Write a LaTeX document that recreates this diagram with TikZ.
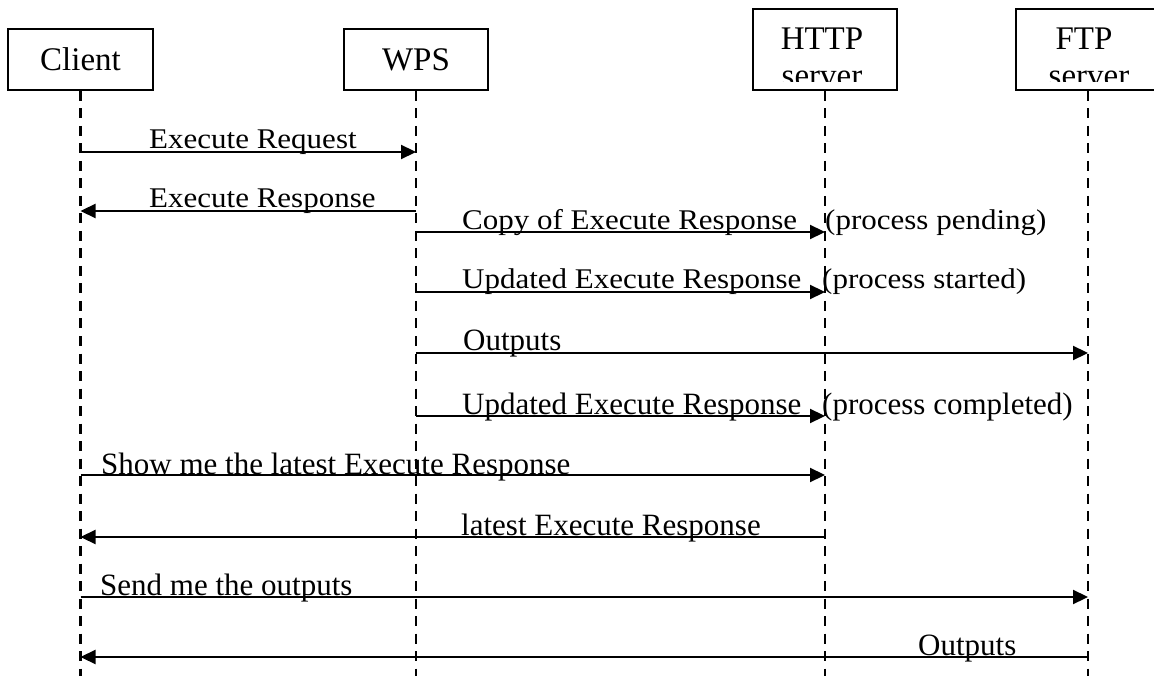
\documentclass[tikz,border=0pt]{standalone}
\usepackage{fontspec}
\setmainfont{Liberation Serif}
\usetikzlibrary{arrows.meta}

\begin{document}
\begin{tikzpicture}[x=1pt, y=-1pt,
  actor/.style={draw, line width=2pt, inner sep=0pt},
  lifeline/.style={line width=2.3pt, dash pattern=on 10pt off 7.5pt},
  msg/.style={line width=2.2pt, -{Triangle[length=15pt,width=14pt]}},
  lbl/.style={anchor=base west, inner sep=0pt, font=\fontsize{31}{36}\selectfont},
  head/.style={anchor=base, inner sep=0pt, font=\fontsize{33}{38}\selectfont},
]
\clip (0,0) rectangle (1154,676);
\fill[white] (0,0) rectangle (1154,676);

% participants
\node[actor, minimum width=145pt, minimum height=61pt] (client) at (80.5,59.5) {};
\node[head] (clientname) at (80.5,70.5) {Client};
\node[actor, minimum width=144pt, minimum height=61pt] (wps) at (416,59.5) {};
\node[head] (wpsname) at (416,70.5) {WPS};
\node[actor, minimum width=144pt, minimum height=81pt] (http) at (825,49.5) {};
\node[actor, minimum width=144pt, minimum height=81pt] (ftp) at (1088,49.5) {};

% two-line titles, cut off at the lower edge of their boxes
\begin{scope}
  \clip (753,9) rectangle (897,82);
  \node[head] (httpname) at (822,49.5) {HTTP};
  \node[head] (httpsub) at (822,87) {server};
\end{scope}
\begin{scope}
  \clip (1016,9) rectangle (1160,82);
  \node[head] (ftpname) at (1084,49.5) {FTP};
  \node[head] (ftpsub) at (1089,87) {server};
\end{scope}

% lifelines
\coordinate (bottom) at (0,680);
\foreach \p in {client,wps,http,ftp}
  \draw[lifeline] (\p.south) -- (\p.south |- bottom);

% message heights
\coordinate (m1) at (0,152);
\coordinate (m2) at (0,211);
\coordinate (m3) at (0,232);
\coordinate (m4) at (0,292);
\coordinate (m5) at (0,353);
\coordinate (m6) at (0,416);
\coordinate (m7) at (0,475);
\coordinate (m8) at (0,537);
\coordinate (m9) at (0,597);
\coordinate (m10) at (0,657);

% messages
\draw[msg] (client |- m1) -- (wps |- m1);
\draw[msg] (wps |- m2) -- (client |- m2);
\draw[msg] (wps |- m3) -- (http |- m3);
\draw[msg] (wps |- m4) -- (http |- m4);
\draw[msg] (wps |- m5) -- (ftp |- m5);
\draw[msg] (wps |- m6) -- (http |- m6);
\draw[msg] (client |- m7) -- (http |- m7);
\draw[msg] (http |- m8) -- (client |- m8);
\draw[msg] (client |- m9) -- (ftp |- m9);
\draw[msg] (ftp |- m10) -- (client |- m10);

% message labels
\node[lbl] (l1) at (149,149) {\scalebox{1}[0.92]{Execute Request}};
\node[lbl] (l2) at (149,208) {\scalebox{1}[0.92]{Execute Response}};
\node[lbl] (l3) at (462,230) {\scalebox{1}[0.92]{Copy of Execute Response}};
\node[lbl] (l3b) at (825,230) {\scalebox{1}[0.92]{(process pending)}};
\node[lbl] (l4) at (462,289) {\scalebox{1}[0.92]{Updated Execute Response}};
\node[lbl] (l4b) at (822,289) {\scalebox{1}[0.92]{(process started)}};
\node[lbl] (l5) at (463,350) {Outputs};
\node[lbl] (l6) at (462,414) {Updated Execute Response};
\node[lbl] (l6b) at (822,414) {(process completed)};
\node[lbl] (l7) at (101,474) {Show me the latest Execute Response};
\node[lbl] (l8) at (461,535) {latest Execute Response};
\node[lbl] (l9) at (100,595) {Send me the outputs};
\node[lbl] (l10) at (918,655) {Outputs};
\end{tikzpicture}
\end{document}
